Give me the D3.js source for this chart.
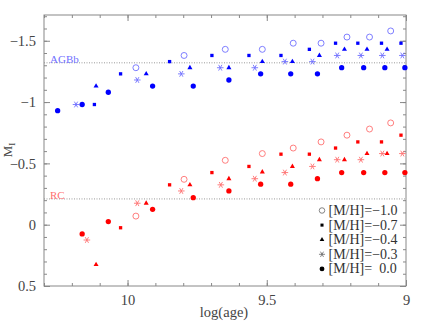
<!DOCTYPE html>
<html>
<head>
<meta charset="utf-8">
<script src="https://cdn.jsdelivr.net/npm/d3@7"></script>
<style>
  body { margin: 0; background: #fff; }
  svg text { font-family: "Liberation Serif", "Times New Roman", serif; }
</style>
</head>
<body>
<script>
// log(age) and M_I for each metallicity; blue = AGB bump, red = red clump
var agesM10 = [9.970, 9.797, 9.649, 9.516, 9.405, 9.305, 9.212, 9.131, 9.055];
var agbbM10 = [-1.28, -1.38, -1.43, -1.43, -1.48, -1.48, -1.53, -1.53, -1.58];
var rcM10 = [-0.07, -0.37, -0.525, -0.58, -0.625, -0.675, -0.73, -0.78, -0.83];

var agesM07 = [10.119, 10.025, 9.849, 9.697, 9.564, 9.449, 9.347, 9.253, 9.173, 9.088, 9.018];
var agbbM07 = [-0.98, -1.23, -1.33, -1.38, -1.38, -1.38, -1.43, -1.48, -1.48, -1.48, -1.48];
var rcM07 = [null, 0.025, -0.325, -0.425, -0.475, -0.575, -0.575, -0.625, -0.675, -0.675, -0.73];

var agesM04 = [10.113, 9.933, 9.776, 9.636, 9.516, 9.408, 9.311, 9.221, 9.140, 9.068];
var agbbM04 = [-1.13, -1.23, -1.28, -1.28, -1.33, -1.33, -1.38, -1.43, -1.43, -1.43];
var rcM04 = [0.325, -0.175, -0.325, -0.375, -0.43, -0.475, -0.53, -0.53, -0.58, -0.58];

var agesM03 = [10.185, 9.965, 9.807, 9.667, 9.543, 9.435, 9.336, 9.247, 9.162, 9.085, 9.013];
var agesM03rc = [10.146, 9.965, 9.807, 9.665, 9.543, 9.435, 9.336, 9.247, 9.162, 9.085, 9.013];
var agbbM03 = [-0.98, -1.18, -1.23, -1.28, -1.28, -1.33, -1.33, -1.38, -1.38, -1.38, -1.38];
var rcM03 = [0.125, -0.175, -0.275, -0.325, -0.375, -0.425, -0.475, -0.53, -0.53, -0.58, -0.58];

var agesM00 = [10.251, 10.163, 10.069, 9.910, 9.764, 9.636, 9.522, 9.414, 9.318, 9.231, 9.152, 9.076, 9.004];
var agbbM00 = [-0.93, -0.98, -1.08, -1.13, -1.13, -1.18, -1.23, -1.23, -1.23, -1.28, -1.28, -1.28, -1.28];
var rcM00 = [null, 0.075, -0.025, -0.125, -0.22, -0.275, -0.33, -0.33, -0.375, -0.425, -0.425, -0.425, -0.425];

var levelAGBb = -1.32,
  levelRC = -0.21;

var legendLabels = ['[M/H]=\u22121.0', '[M/H]=\u22120.7', '[M/H]=\u22120.4', '[M/H]=\u22120.3', '[M/H]=  0.0'];
var xTicks = [10, 9.5, 9];
var yTicks = [-1.5, -1, -0.5, 0, 0.5];

var width = 432,
  height = 323,
  pLeft = 44,
  pRight = 406,
  pTop = 15,
  pBottom = 286;

var blue = '#0000ff', lightBlue = '#7070ff', red = '#ff0000', lightRed = '#ff7070', frame = '#888';

var x = d3.scaleLinear().domain([10.3, 9]).range([pLeft, pRight]);
var y = d3.scaleLinear().domain([0.5, -1.71]).range([pBottom, pTop]);

var svg = d3.select('body').append('svg').attr('width', width).attr('height', height);

// reference lines
[[levelAGBb, 'AGBb', lightBlue], [levelRC, 'RC', lightRed]].forEach(function(l) {
  svg.append('line')
    .attr('x1', pLeft).attr('x2', pRight)
    .attr('y1', y(l[0])).attr('y2', y(l[0]))
    .style('stroke', '#999')
    .style('stroke-width', 1)
    .style('stroke-dasharray', '1,1.5');
  svg.append('text')
    .attr('x', 50)
    .attr('y', y(l[0]) + 0.5)
    .style('font-size', '11px')
    .style('fill', l[2])
    .text(l[1]);
});

// axes with inward ticks on all sides
var minorX = d3.range(9.0, 10.31, 0.1).map(function(d) { return +d.toFixed(1); });
var minorY = d3.range(-1.7, 0.51, 0.1).map(function(d) { return +d.toFixed(1); });

function tickFmt(d) {
  return d < 0 ? '\u2212' + Math.abs(d) : String(d);
}

svg.append('g').attr('transform', 'translate(0,' + pBottom + ')')
  .call(d3.axisBottom(x).tickValues(xTicks).tickSize(-6).tickPadding(9).tickFormat(d3.format('')));
svg.append('g').attr('transform', 'translate(0,' + pTop + ')')
  .call(d3.axisTop(x).tickValues(xTicks).tickSize(-6).tickFormat(''));
svg.append('g').attr('transform', 'translate(' + pLeft + ',0)')
  .call(d3.axisLeft(y).tickValues(yTicks).tickSize(-6).tickPadding(8).tickFormat(tickFmt));
svg.append('g').attr('transform', 'translate(' + pRight + ',0)')
  .call(d3.axisRight(y).tickValues(yTicks).tickSize(-6).tickFormat(''));

svg.append('g').attr('transform', 'translate(0,' + pBottom + ')')
  .call(d3.axisBottom(x).tickValues(minorX).tickSize(-3).tickFormat(''));
svg.append('g').attr('transform', 'translate(0,' + pTop + ')')
  .call(d3.axisTop(x).tickValues(minorX).tickSize(-3).tickFormat(''));
svg.append('g').attr('transform', 'translate(' + pLeft + ',0)')
  .call(d3.axisLeft(y).tickValues(minorY).tickSize(-3).tickFormat(''));
svg.append('g').attr('transform', 'translate(' + pRight + ',0)')
  .call(d3.axisRight(y).tickValues(minorY).tickSize(-3).tickFormat(''));

svg.selectAll('.domain').remove();
svg.selectAll('.tick line').style('stroke', frame);
svg.selectAll('.tick text')
  .style('font-family', '"Liberation Serif", serif')
  .style('font-size', '14.5px')
  .style('fill', '#444');

svg.append('rect')
  .attr('x', pLeft).attr('y', pTop)
  .attr('width', pRight - pLeft).attr('height', pBottom - pTop)
  .style('fill', 'none')
  .style('stroke', frame);

// axis titles
svg.append('text')
  .attr('x', 224).attr('y', 317)
  .attr('text-anchor', 'middle')
  .style('font-size', '14.5px')
  .style('fill', '#444')
  .text('log(age)');

var yl = svg.append('text')
  .attr('transform', 'translate(12,150) rotate(-90)')
  .attr('text-anchor', 'middle')
  .style('font-size', '13px')
  .style('fill', '#444');
yl.append('tspan').text('M');
yl.append('tspan').attr('dy', 3).style('font-size', '9px').text('I');

// markers
var markers = [
  { sym: d3.symbolCircle, size: 28, fill: 'none', stroke: true, light: true },
  { sym: d3.symbolSquare, size: 11, fill: true, stroke: false, light: false },
  { sym: d3.symbolTriangle, size: 11, fill: true, stroke: false, light: false },
  { sym: d3.symbolAsterisk, size: 30, fill: 'none', stroke: true, light: true, rot: 90 },
  { sym: d3.symbolCircle, size: 22, fill: true, stroke: false, light: false }
];

function drawSeries(ages, mags, m, baseColor, lightColor) {
  var col = m.light ? lightColor : baseColor;
  var pts = ages.map(function(a, i) { return [a, mags[i]]; })
    .filter(function(p) { return p[1] !== null; });
  svg.append('g').selectAll('path')
    .data(pts)
    .enter()
    .append('path')
    .attr('d', d3.symbol().type(m.sym).size(m.size))
    .attr('transform', function(d) {
      return 'translate(' + x(d[0]) + ',' + y(d[1]) + ')' + (m.rot ? 'rotate(' + m.rot + ')' : '');
    })
    .style('fill', m.fill === true ? col : 'none')
    .style('stroke', m.stroke ? col : 'none')
    .style('stroke-width', 0.9);
}

var series = [
  [agesM10, agbbM10, agesM10, rcM10],
  [agesM07, agbbM07, agesM07, rcM07],
  [agesM04, agbbM04, agesM04, rcM04],
  [agesM03, agbbM03, agesM03rc, rcM03],
  [agesM00, agbbM00, agesM00, rcM00]
];

series.forEach(function(s, i) {
  drawSeries(s[0], s[1], markers[i], blue, lightBlue);
  drawSeries(s[2], s[3], markers[i], red, lightRed);
});

// legend
var legend = svg.append('g').attr('class', 'legend');
legendLabels.forEach(function(lab, i) {
  var ly = 210.5 + i * 14.6;
  var m = markers[i];
  var col = m.light ? '#666' : '#000';
  legend.append('path')
    .attr('d', d3.symbol().type(m.sym).size(m.size * 0.85))
    .attr('transform', 'translate(322,' + ly + ')' + (m.rot ? 'rotate(' + m.rot + ')' : ''))
    .style('fill', m.fill === true ? col : 'none')
    .style('stroke', m.stroke ? col : 'none')
    .style('stroke-width', 0.8);
  legend.append('text')
    .attr('x', 328.5)
    .attr('y', ly + 4.5)
    .attr('xml:space', 'preserve')
    .style('white-space', 'pre')
    .style('font-size', '14px')
    .style('fill', '#333')
    .text(lab);
});
</script>
</body>
</html>
